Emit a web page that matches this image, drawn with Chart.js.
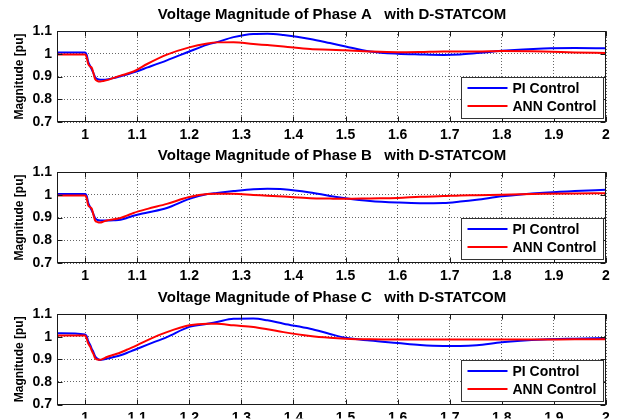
<!DOCTYPE html>
<html><head><meta charset="utf-8">
<script src="https://cdn.jsdelivr.net/npm/chart.js@4.4.0/dist/chart.umd.min.js"></script>
<style>
html,body{margin:0;padding:0;background:#fff;}
#wrap{position:relative;width:620px;height:419px;overflow:hidden;background:#fff;}
canvas{position:absolute;left:0;}
</style></head><body>
<div id="wrap">
<canvas id="cA" width="620" height="141" style="top:0px"></canvas>
<canvas id="cB" width="620" height="142" style="top:141px"></canvas>
<canvas id="cC" width="620" height="136" style="top:283px"></canvas>
</div>
<script>
// ---- data ----
const time = [0.948, 1.000, 1.003, 1.006, 1.010, 1.013, 1.016, 1.019, 1.024, 1.029, 1.035, 1.042, 1.055, 1.068, 1.080, 1.093, 1.120, 1.157, 1.200, 1.235, 1.253, 1.285, 1.323, 1.350, 1.381, 1.432, 1.470, 1.500, 1.547, 1.600, 1.643, 1.688, 1.720, 1.752, 1.800, 1.880, 1.940, 2.000];

const piA  = [1.006, 1.005, 0.995, 0.965, 0.945, 0.930, 0.915, 0.898, 0.888, 0.886, 0.886, 0.887, 0.893, 0.901, 0.909, 0.918, 0.940, 0.971, 1.010, 1.040, 1.051, 1.073, 1.087, 1.088, 1.082, 1.065, 1.047, 1.032, 1.010, 1.000, 0.997, 0.995, 0.997, 1.003, 1.013, 1.023, 1.025, 1.024];
const annA = [0.997, 0.997, 0.985, 0.955, 0.943, 0.938, 0.915, 0.890, 0.880, 0.878, 0.880, 0.884, 0.894, 0.904, 0.912, 0.922, 0.956, 0.996, 1.028, 1.045, 1.050, 1.051, 1.043, 1.038, 1.032, 1.021, 1.018, 1.015, 1.010, 1.007, 1.008, 1.010, 1.010, 1.010, 1.012, 1.010, 1.006, 1.003];

const piB  = [1.003, 1.003, 0.995, 0.965, 0.945, 0.930, 0.915, 0.898, 0.889, 0.887, 0.887, 0.887, 0.888, 0.890, 0.898, 0.908, 0.922, 0.942, 0.982, 1.003, 1.008, 1.016, 1.024, 1.026, 1.024, 1.010, 0.995, 0.985, 0.973, 0.966, 0.963, 0.964, 0.970, 0.978, 0.993, 1.009, 1.016, 1.022];
const annB = [0.997, 0.997, 0.985, 0.953, 0.945, 0.938, 0.912, 0.888, 0.880, 0.878, 0.882, 0.887, 0.892, 0.898, 0.908, 0.920, 0.938, 0.960, 0.990, 1.003, 1.004, 1.004, 0.999, 0.996, 0.992, 0.985, 0.983, 0.982, 0.984, 0.986, 0.991, 0.994, 0.997, 0.998, 1.000, 1.004, 1.006, 1.007];

const piC  = [1.015, 1.010, 1.002, 0.980, 0.962, 0.945, 0.932, 0.915, 0.902, 0.897, 0.899, 0.903, 0.910, 0.918, 0.928, 0.940, 0.965, 0.998, 1.043, 1.057, 1.065, 1.079, 1.080, 1.072, 1.057, 1.035, 1.012, 0.995, 0.983, 0.972, 0.963, 0.959, 0.959, 0.962, 0.975, 0.987, 0.991, 0.994];
const annC = [1.005, 1.005, 0.992, 0.970, 0.955, 0.937, 0.924, 0.906, 0.899, 0.898, 0.903, 0.910, 0.920, 0.930, 0.942, 0.955, 0.985, 1.020, 1.050, 1.057, 1.057, 1.050, 1.043, 1.033, 1.020, 1.003, 0.995, 0.991, 0.988, 0.987, 0.987, 0.987, 0.987, 0.987, 0.987, 0.987, 0.988, 0.988];

const xTicks = [1, 1.1, 1.2, 1.3, 1.4, 1.5, 1.6, 1.7, 1.8, 1.9, 2];
const xTickLabels = ['1', '1.1', '1.2', '1.3', '1.4', '1.5', '1.6', '1.7', '1.8', '1.9', '2'];
const yTicks = [0.7, 0.8, 0.9, 1, 1.1];
const yTickLabels = ['0.7', '0.8', '0.9', '1', '1.1'];
const xMin = 0.948, xMax = 2.0, yMin = 0.7, yMax = 1.1;
const titles = ['Voltage Magnitude of Phase A   with D-STATCOM',
                'Voltage Magnitude of Phase B   with D-STATCOM',
                'Voltage Magnitude of Phase C   with D-STATCOM'];
const seriesNames = ['PI Control', 'ANN Control'];
const yAxisTitle = 'Magnitude [pu]';

// ---- drawing ----
const FONT = "'Liberation Sans', Arial, Helvetica, sans-serif";
const CHART_BOTTOM = 122;

function pts(vals) { return time.map((t, i) => ({x: t, y: vals[i]})); }

const framePlugin = {
  id: 'frameLegend',
  afterDraw(chart) {
    const {ctx, chartArea: a, scales: {x, y}} = chart;
    ctx.save();
    ctx.strokeStyle = '#1a1a1a';
    ctx.lineWidth = 1;
    ctx.setLineDash([]);
    const L = Math.round(a.left) - 0.5, R = Math.round(a.right) - 0.5;
    const T = Math.round(a.top) + 0.5, B = Math.round(a.bottom) - 0.5;
    ctx.strokeRect(L, T, R - L, B - T);
    ctx.beginPath();
    x.ticks.forEach(t => {
      const px = Math.round(x.getPixelForValue(t.value)) + 0.5;
      ctx.moveTo(px, B); ctx.lineTo(px, B - 5);
      ctx.moveTo(px, T); ctx.lineTo(px, T + 5);
    });
    y.ticks.forEach(t => {
      const py = Math.round(y.getPixelForValue(t.value)) + 0.5;
      ctx.moveTo(L, py); ctx.lineTo(L + 5, py);
      ctx.moveTo(R, py); ctx.lineTo(R - 5, py);
    });
    ctx.stroke();
    // legend box
    const bw = 142, bh = 41;
    const bx = Math.round(a.right) - 145 + 0.5, by = Math.round(a.bottom) - 45 + 0.5;
    ctx.fillStyle = '#fff';
    ctx.fillRect(bx, by, bw, bh);
    ctx.strokeStyle = '#333';
    ctx.strokeRect(bx, by, bw, bh);
    ctx.font = 'bold 14px ' + FONT;
    ctx.textBaseline = 'middle';
    ctx.textAlign = 'left';
    chart.data.datasets.forEach((ds, i) => {
      const ly = Math.round(by + 10 + i * 18.5);
      ctx.strokeStyle = ds.borderColor;
      ctx.lineWidth = 2;
      ctx.beginPath();
      ctx.moveTo(bx + 6, ly); ctx.lineTo(bx + 46, ly);
      ctx.stroke();
      ctx.fillStyle = '#000';
      ctx.fillText(ds.label, bx + 51, ly + 1);
    });
    ctx.restore();
  }
};

function makeChart(id, title, pi, ann) {
  const canvas = document.getElementById(id);
  const H = canvas.height;
  return new Chart(canvas, {
    type: 'line',
    data: {
      datasets: [
        {label: seriesNames[0], data: pts(pi), borderColor: '#0000ff', borderWidth: 2, pointRadius: 0, cubicInterpolationMode: 'monotone', order: 1, fill: false},
        {label: seriesNames[1], data: pts(ann), borderColor: '#ff0000', borderWidth: 2, pointRadius: 0, cubicInterpolationMode: 'monotone', order: 0, fill: false}
      ]
    },
    options: {
      responsive: false,
      animation: false,
      devicePixelRatio: 1,
      layout: {padding: {left: 0, right: 14, top: 0, bottom: 0}},
      plugins: {
        legend: {display: false},
        tooltip: {enabled: false},
        title: {
          display: true, text: title, fullSize: false, color: '#000',
          font: {family: FONT, size: 15, weight: 'bold', lineHeight: 1.2},
          padding: {top: 6, bottom: 7}
        }
      },
      scales: {
        x: {
          type: 'linear', min: xMin, max: xMax,
          afterBuildTicks: s => { s.ticks = xTicks.map(v => ({value: v})); },
          afterFit: s => { s.height = H - CHART_BOTTOM; },
          ticks: {
            color: '#000', padding: 5, maxRotation: 0, autoSkip: false,
            font: {family: FONT, size: 14, weight: 'bold'},
            callback: (v) => { const i = xTicks.findIndex(t => Math.abs(t - v) < 1e-6); return i >= 0 ? xTickLabels[i] : ''; }
          },
          grid: {color: 'rgba(0,0,0,0.6)', lineWidth: 1, drawTicks: false},
          border: {display: false, dash: [1, 2]}
        },
        y: {
          min: yMin, max: yMax,
          afterBuildTicks: s => { s.ticks = yTicks.map(v => ({value: v})); },
          afterFit: s => { s.width = 58; },
          ticks: {
            color: '#000', padding: 6,
            font: {family: FONT, size: 14, weight: 'bold'},
            callback: (v) => { const i = yTicks.findIndex(t => Math.abs(t - v) < 1e-6); return i >= 0 ? yTickLabels[i] : ''; }
          },
          grid: {color: 'rgba(0,0,0,0.6)', lineWidth: 1, drawTicks: false},
          border: {display: false, dash: [1, 2]},
          title: {
            display: true, text: yAxisTitle, color: '#000',
            font: {family: FONT, size: 12, weight: 'bold'},
            padding: {top: 12, bottom: 0}
          }
        }
      }
    },
    plugins: [framePlugin]
  });
}

makeChart('cA', titles[0], piA, annA);
makeChart('cB', titles[1], piB, annB);
makeChart('cC', titles[2], piC, annC);
</script>
</body></html>
